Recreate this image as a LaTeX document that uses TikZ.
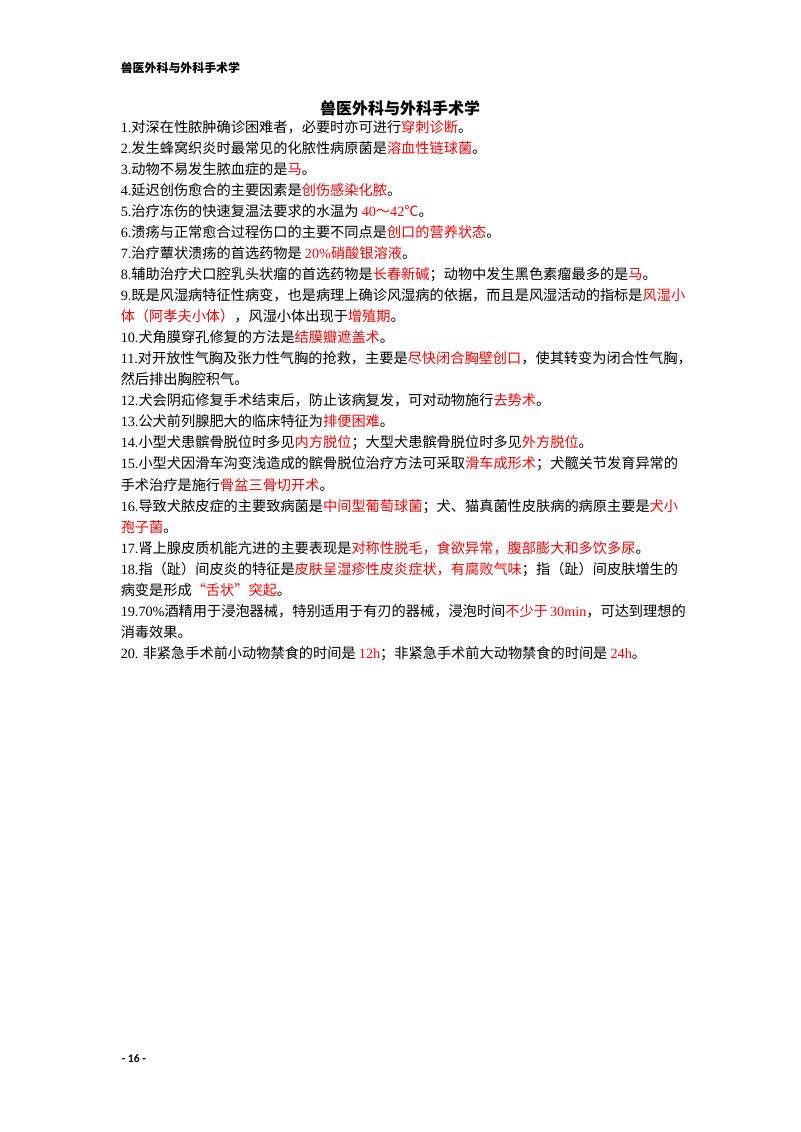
\documentclass[tikz,border=0pt]{standalone}
\usepackage{fontspec}
\setmainfont{Noto Sans CJK SC}
\newfontfamily\latf{Liberation Serif}
\newfontfamily\footf{Carlito}
\definecolor{myred}{RGB}{255,0,0}
\newdimen\pxu \pxu=0.75pt
\newskip\cjkglue \cjkglue=0pt plus 1fil minus 0.5pt
\XeTeXinterchartokenstate=1
\XeTeXinterchartoks 1 1 = {\hskip\cjkglue}
\XeTeXinterchartoks 1 2 = {\hskip\cjkglue}
\XeTeXinterchartoks 1 3 = {\hskip\cjkglue}
\XeTeXinterchartoks 2 1 = {\hskip\cjkglue}
\XeTeXinterchartoks 3 1 = {\hskip\cjkglue}
\XeTeXinterchartoks 3 2 = {\hskip\cjkglue}
\XeTeXinterchartoks 3 3 = {\hskip\cjkglue}
\XeTeXinterchartoks 0 1 = {\hskip\cjkglue}
\XeTeXinterchartoks 1 0 = {\hskip\cjkglue}
\XeTeXinterchartoks 3 0 = {\hskip\cjkglue}
\XeTeXinterchartoks 0 3 = {\hskip\cjkglue}
\newcommand\R[1]{\textcolor{myred}{#1}}
\newcommand\N[1]{{\latf #1}}
\newcommand\J[1]{\hbox to 560\pxu{#1}}
\tikzset{
  bodyline/.style={anchor=base west, inner sep=0pt, font=\fontsize{10.65}{12}\selectfont},
  headline/.style={anchor=base west, inner sep=0pt, font=\fontsize{8.95}{10}\selectfont\bfseries},
  titleline/.style={anchor=base, inner sep=0pt, font=\fontsize{12}{14}\selectfont\bfseries},
  footline/.style={anchor=base west, inner sep=0pt, font=\fontsize{8.7}{10}\footf\bfseries}
}
\begin{document}
\begin{tikzpicture}[x=0.75pt, y=-0.75pt]
\fill[white] (0,0) rectangle (800,1132);
\useasboundingbox (0,0) rectangle (800,1132);
\node[headline] (hdr) at (120.5,72.2) {兽医外科与外科手术学};
\node[titleline] (ttl) at (400,114) {兽医外科与外科手术学};
\node[bodyline] (l1) at (120.5,132.0) {\N{1.}对深在性脓肿确诊困难者，必要时亦可进行\R{穿刺诊断}。};
\node[bodyline] (l2) at (120.5,153.06) {\N{2.}发生蜂窝织炎时最常见的化脓性病原菌是\R{溶血性链球菌}。};
\node[bodyline] (l3) at (120.5,174.12) {\N{3.}动物不易发生脓血症的是\R{马}。};
\node[bodyline] (l4) at (120.5,195.18) {\N{4.}延迟创伤愈合的主要因素是\R{创伤感染化脓}。};
\node[bodyline] (l5) at (120.5,216.24) {\N{5.}治疗冻伤的快速复温法要求的水温为 \R{\N{40}～\N{42}℃}。};
\node[bodyline] (l6) at (120.5,237.3) {\N{6.}溃疡与正常愈合过程伤口的主要不同点是\R{创口的营养状态}。};
\node[bodyline] (l7) at (120.5,258.36) {\N{7.}治疗蕈状溃疡的首选药物是 \R{\N{20\%}硝酸银溶液}。};
\node[bodyline] (l8) at (120.5,279.42) {\N{8.}辅助治疗犬口腔乳头状瘤的首选药物是\R{长春新碱}；动物中发生黑色素瘤最多的是\R{马}。};
\node[bodyline] (l9a) at (120.5,300.48) {\J{\N{9.}既是风湿病特征性病变，也是病理上确诊风湿病的依据，而且是风湿活动的指标是\R{风湿小}}};
\node[bodyline] (l9b) at (120.5,321.54) {\R{体（阿孝夫小体）}，风湿小体出现于\R{增殖期}。};
\node[bodyline] (l10) at (120.5,342.6) {\N{10.}犬角膜穿孔修复的方法是\R{结膜瓣遮盖术}。};
\node[bodyline] (l11a) at (120.5,363.66) {\J{\N{11.}对开放性气胸及张力性气胸的抢救，主要是\R{尽快闭合胸壁创口}，使其转变为闭合性气胸，}};
\node[bodyline] (l11b) at (120.5,384.72) {然后排出胸腔积气。};
\node[bodyline] (l12) at (120.5,405.78) {\N{12.}犬会阴疝修复手术结束后，防止该病复发，可对动物施行\R{去势术}。};
\node[bodyline] (l13) at (120.5,426.84) {\N{13.}公犬前列腺肥大的临床特征为\R{排便困难}。};
\node[bodyline] (l14) at (120.5,447.9) {\N{14.}小型犬患髌骨脱位时多见\R{内方脱位}；大型犬患髌骨脱位时多见\R{外方脱位}。};
\node[bodyline] (l15a) at (120.5,468.96) {\J{\N{15.}小型犬因滑车沟变浅造成的髌骨脱位治疗方法可采取\R{滑车成形术}；犬髋关节发育异常的}};
\node[bodyline] (l15b) at (120.5,490.02) {手术治疗是施行\R{骨盆三骨切开术}。};
\node[bodyline] (l16a) at (120.5,511.08) {\J{\N{16.}导致犬脓皮症的主要致病菌是\R{中间型葡萄球菌}；犬、猫真菌性皮肤病的病原主要是\R{犬小}}};
\node[bodyline] (l16b) at (120.5,532.14) {\R{孢子菌}。};
\node[bodyline] (l17) at (120.5,553.2) {\N{17.}肾上腺皮质机能亢进的主要表现是\R{对称性脱毛，食欲异常，腹部膨大和多饮多尿}。};
\node[bodyline] (l18a) at (120.5,574.26) {\J{\N{18.}指（趾）间皮炎的特征是\R{皮肤呈湿疹性皮炎症状，有腐败气味}；指（趾）间皮肤增生的}};
\node[bodyline] (l18b) at (120.5,595.32) {病变是形成\R{“舌状”突起}。};
\node[bodyline] (l19a) at (120.5,616.38) {\J{\N{19.70\%}酒精用于浸泡器械，特别适用于有刃的器械，浸泡时间\R{不少于 \N{30min}}，可达到理想的}};
\node[bodyline] (l19b) at (120.5,637.44) {消毒效果。};
\node[bodyline] (l20) at (120.5,658.5) {\N{20.} 非紧急手术前小动物禁食的时间是 \R{\N{12h}}；非紧急手术前大动物禁食的时间是 \R{\N{24h}}。};
\node[footline] (ftr) at (121.5,1062.7) {- 16 -};
\end{tikzpicture}
\end{document}
